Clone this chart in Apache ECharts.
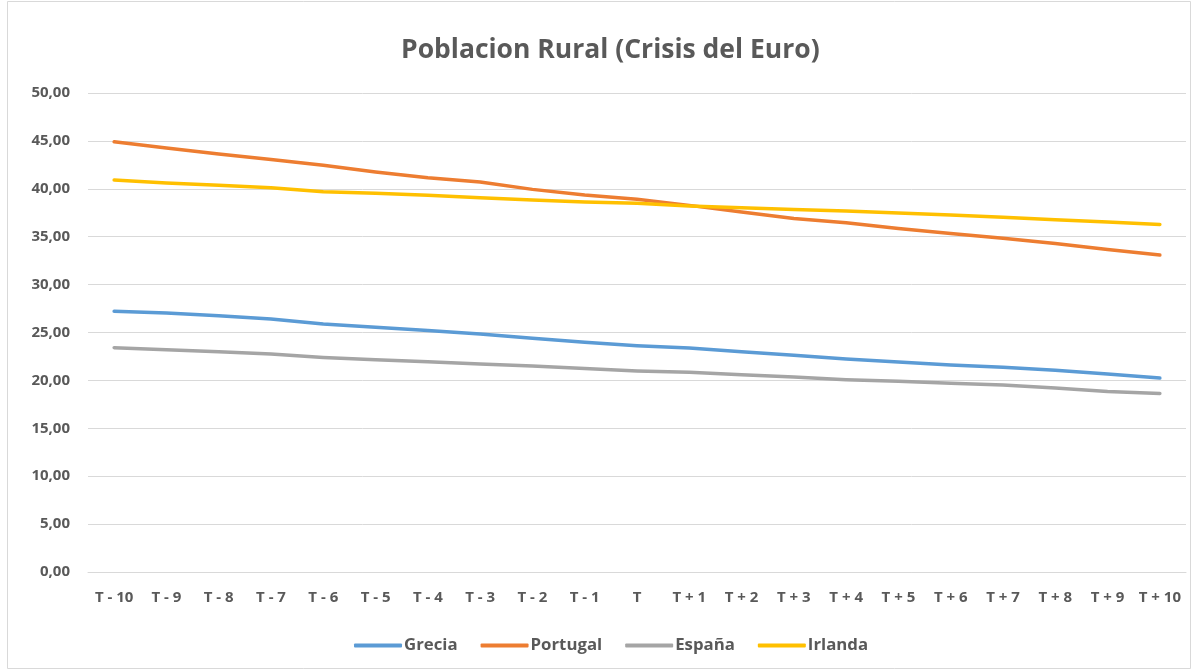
<!DOCTYPE html>
<html>
<head>
<meta charset="utf-8">
<title>Poblacion Rural (Crisis del Euro)</title>
<script src="https://cdn.jsdelivr.net/npm/echarts@6/dist/echarts.min.js"></script>
<style>
  html, body { margin: 0; padding: 0; background: #ffffff; }
  #chart { width: 1197px; height: 671px; }
</style>
</head>
<body>
<div id="chart"></div>
<script>
// Periods around the crisis year T
const categories = ['T - 10', 'T - 9', 'T - 8', 'T - 7', 'T - 6', 'T - 5', 'T - 4', 'T - 3', 'T - 2', 'T - 1', 'T',
  'T + 1', 'T + 2', 'T + 3', 'T + 4', 'T + 5', 'T + 6', 'T + 7', 'T + 8', 'T + 9', 'T + 10'];

// Rural population (% of total) per country
const grecia   = [27.22, 27.04, 26.76, 26.42, 25.89, 25.54, 25.20, 24.85, 24.39, 23.97, 23.62, 23.38, 23.00, 22.62, 22.23, 21.92, 21.60, 21.36, 21.05, 20.66, 20.24];
const portugal = [44.90, 44.27, 43.64, 43.05, 42.45, 41.76, 41.16, 40.71, 39.94, 39.35, 38.90, 38.27, 37.57, 36.91, 36.45, 35.86, 35.34, 34.85, 34.30, 33.67, 33.08];
const espana   = [23.42, 23.21, 23.00, 22.75, 22.40, 22.16, 21.95, 21.71, 21.50, 21.23, 20.98, 20.84, 20.59, 20.35, 20.07, 19.90, 19.69, 19.51, 19.20, 18.85, 18.64];
const irlanda  = [40.92, 40.61, 40.36, 40.12, 39.70, 39.53, 39.32, 39.07, 38.83, 38.62, 38.48, 38.20, 38.03, 37.85, 37.68, 37.47, 37.26, 37.02, 36.77, 36.53, 36.28];

const seriesNames = ['Grecia', 'Portugal', 'España', 'Irlanda'];
const seriesColors = ['#5B9BD5', '#ED7D31', '#A5A5A5', '#FFC000'];

// Value axis range
const yMin = 0;
const yMax = 50;
const yStep = 5;

const textColor = '#595959';
const fontFamily = '"Open Sans", "Liberation Sans", sans-serif';

const chart = echarts.init(document.getElementById('chart'), null, { renderer: 'canvas' });

const seriesData = [grecia, portugal, espana, irlanda];

chart.setOption({
  backgroundColor: '#ffffff',
  animation: false,
  graphic: [{
    type: 'rect',
    shape: { x: 7.5, y: 1.5, width: 1183, height: 667 },
    style: { fill: 'none', stroke: '#d9d9d9', lineWidth: 1 },
    z: -1
  }],
  title: {
    text: 'Poblacion Rural (Crisis del Euro)',
    left: 396,
    top: 32,
    textStyle: { color: textColor, fontSize: 26.5, fontWeight: 'bold', fontFamily: fontFamily }
  },
  legend: {
    data: seriesNames,
    bottom: 12,
    left: 349,
    icon: 'roundRect',
    itemWidth: 48,
    itemHeight: 4,
    itemGap: 23,
    textStyle: { color: textColor, fontSize: 16.8, fontWeight: 'bold', fontFamily: fontFamily, padding: [0, 0, 0, -3] }
  },
  grid: { left: 88, right: 11, top: 93, bottom: 99, containLabel: false },
  xAxis: {
    type: 'category',
    data: categories,
    boundaryGap: true,
    axisLine: { lineStyle: { color: '#d9d9d9', width: 1 } },
    axisTick: { show: false },
    axisLabel: { color: textColor, fontSize: 15, fontWeight: 'bold', fontFamily: fontFamily, margin: 18, interval: 0 }
  },
  yAxis: {
    type: 'value',
    min: yMin,
    max: yMax,
    interval: yStep,
    axisLine: { show: false },
    axisTick: { show: false },
    splitLine: { lineStyle: { color: '#d9d9d9', width: 1 } },
    axisLabel: {
      color: textColor, fontSize: 15, fontWeight: 'bold', fontFamily: fontFamily, margin: 18,
      formatter: v => v.toFixed(2).replace('.', ',')
    }
  },
  series: seriesNames.map((name, i) => ({
    name: name,
    type: 'line',
    data: seriesData[i],
    symbol: 'none',
    smooth: false,
    color: seriesColors[i],
    lineStyle: { color: seriesColors[i], width: 3.5, cap: 'round', join: 'round' }
  }))
});
</script>
</body>
</html>
